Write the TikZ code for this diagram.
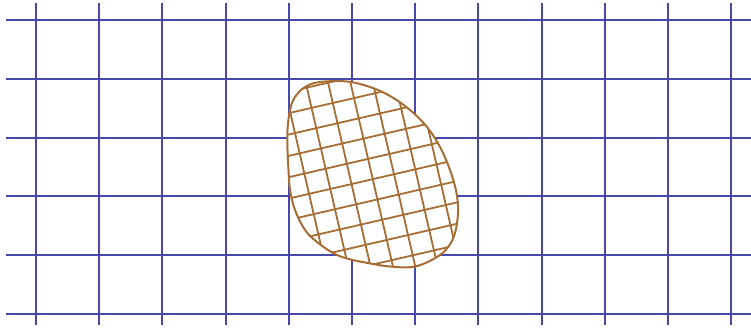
\documentclass[tikz,border=0pt]{standalone}
\definecolor{gridblue}{RGB}{72,72,170}
\definecolor{blobbrown}{RGB}{166,110,52}
\begin{document}
\begin{tikzpicture}[x=1pt,y=-1pt,
  bluegrid/.style={draw=gridblue,line width=2pt},
  browngrid/.style={draw=blobbrown,line width=1.8pt},
  blobline/.style={draw=blobbrown,line width=2pt}]
\useasboundingbox (0,0) rectangle (751,328);
% blue grid
\foreach \i in {0,...,11} {
  \draw[bluegrid] ({36+63.2*\i},3) -- ({36+63.2*\i},325);
}
\foreach \j in {0,...,5} {
  \draw[bluegrid] (6,{20+58.8*\j}) -- (751,{20+58.8*\j});
}
% blob
\def\blobpath{plot[smooth cycle,tension=0.6] coordinates {
 (287.5,150) (288.5,170) (290,190) (295,210) (305,230) (317,242) (333,253)
 (347,258.5) (365,262.5) (390,266.5) (415,266.5) (437,257) (448.5,246.5)
 (455,233) (458,213) (456.5,193) (450,170) (440,147) (427,127) (410,110)
 (390,96) (370,87) (347,81.5) (320,82) (305,87) (295,97) (290,110) (287.5,130)}}
\fill[white] \blobpath;
\begin{scope}
  \clip \blobpath;
  \begin{scope}[shift={(332.8,103)},rotate=13]
    \foreach \k in {-10,...,10} {
      \draw[browngrid] ({21.8*\k},-250) -- ({21.8*\k},250);
      \draw[browngrid] (-250,{20.8*\k}) -- (250,{20.8*\k});
    }
  \end{scope}
\end{scope}
\draw[blobline] \blobpath;
\end{tikzpicture}
\end{document}
